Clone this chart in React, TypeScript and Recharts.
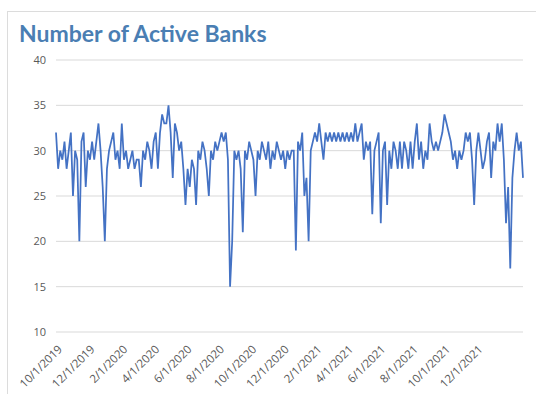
import React from 'react';
import { LineChart, Line, XAxis, YAxis, CartesianGrid } from 'recharts';

const TITLE = 'Number of Active Banks';

// sampled every 4 days starting 10/1/2019
const START_DATE = '10/1/2019';
const DAY_STEP = 4;

const activeBanks = [
  32, 28, 30, 29, 31, 28, 30, 32, 25, 30,
  29, 20, 31, 32, 26, 30, 29, 31, 29, 31,
  33, 30, 26, 20, 28, 30, 31, 32, 29, 30,
  28, 33, 29, 30, 28, 29, 30, 28, 29, 29,
  26, 30, 29, 31, 30, 28, 31, 32, 28, 32,
  34, 33, 33, 35, 32, 27, 33, 32, 30, 31,
  28, 24, 28, 26, 29, 28, 24, 30, 29, 31,
  30, 28, 25, 30, 29, 31, 30, 31, 32, 31,
  32, 29, 15, 20, 30, 29, 30, 28, 21, 30,
  29, 31, 30, 29, 25, 30, 29, 31, 30, 29,
  31, 28, 30, 29, 31, 30, 29, 30, 28, 30,
  29, 30, 30, 19, 31, 30, 32, 25, 27, 20,
  30, 31, 32, 31, 33, 31, 29, 32, 31, 32,
  31, 32, 31, 32, 31, 32, 31, 32, 31, 32,
  31, 33, 31, 32, 33, 29, 31, 30, 31, 23,
  30, 31, 32, 22, 30, 31, 24, 30, 28, 31,
  30, 28, 31, 28, 31, 30, 28, 31, 28, 31,
  33, 29, 31, 28, 30, 29, 33, 31, 30, 31,
  30, 31, 32, 34, 33, 32, 31, 29, 30, 28,
  30, 29, 30, 32, 31, 32, 29, 24, 30, 32,
  30, 28, 29, 31, 32, 27, 31, 30, 33, 31,
  33, 29, 22, 26, 17, 27, 30, 32, 30, 31,
  27,
];

const xTickLabels = [
  '10/1/2019', '12/1/2019', '2/1/2020', '4/1/2020', '6/1/2020', '8/1/2020',
  '10/1/2020', '12/1/2020', '2/1/2021', '4/1/2021', '6/1/2021', '8/1/2021',
  '10/1/2021', '12/1/2021',
];

const yTicks = [10, 15, 20, 25, 30, 35, 40];

const toUtc = (label: string) => {
  const [m, d, y] = label.split('/').map(Number);
  return Date.UTC(y, m - 1, d);
};
const dayOffset = (label: string) =>
  Math.round((toUtc(label) - toUtc(START_DATE)) / 86400000);

const data = activeBanks.map((v, i) => ({ day: i * DAY_STEP, banks: v }));
const xTicks = xTickLabels.map(dayOffset);
const labelByDay: Record<number, string> = {};
xTickLabels.forEach((l) => (labelByDay[dayOffset(l)] = l));

const FONT = '"Open Sans", "Noto Sans", sans-serif';

const DateTick = (props: any) => {
  const { x, y, payload } = props;
  const tx = x + 7;
  const ty = y + 10;
  return (
    <text
      x={tx}
      y={ty}
      transform={`rotate(-45, ${tx}, ${ty})`}
      textAnchor="end"
      fontSize={11.5}
      fill="#595959"
      fontFamily={FONT}
    >
      {labelByDay[payload.value]}
    </text>
  );
};

const App: React.FC = () => {
  return (
    <div style={{ position: 'absolute', left: 0, top: 0, width: 536, height: 394, background: '#fff', overflow: 'hidden' }}>
      <div
        style={{
          position: 'absolute',
          left: 7,
          top: 11,
          width: 529,
          height: 383,
          borderTop: '1px solid #dcdcdc',
          borderLeft: '1px solid #dcdcdc',
        }}
      />
      <div
        style={{
          position: 'absolute',
          left: 19,
          top: 19,
          fontFamily: 'Lato, "Open Sans", sans-serif',
          fontWeight: 700,
          fontSize: 23,
          color: '#4a7eb3',
          whiteSpace: 'nowrap',
        }}
      >
        {TITLE}
      </div>
      <div style={{ position: 'absolute', left: 0, top: 0 }}>
        <LineChart
          width={536}
          height={394}
          data={data}
          margin={{ top: 60, right: 13, bottom: 0, left: 10 }}
        >
          <CartesianGrid vertical={false} stroke="#d9d9d9" />
          <XAxis
            dataKey="day"
            type="number"
            domain={[0, (activeBanks.length - 1) * DAY_STEP]}
            ticks={xTicks}
            interval={0}
            tick={<DateTick />}
            tickLine={false}
            axisLine={false}
            height={62}
          />
          <YAxis
            domain={[10, 40]}
            ticks={yTicks}
            interval={0}
            tickLine={false}
            axisLine={false}
            width={46}
            tickMargin={4}
            tick={{ fontSize: 11, fill: '#595959', fontFamily: FONT }}
          />
          <Line
            type="linear"
            dataKey="banks"
            stroke="#4472c4"
            strokeWidth={1.75}
            dot={false}
            isAnimationActive={false}
          />
        </LineChart>
      </div>
    </div>
  );
};

export default App;
